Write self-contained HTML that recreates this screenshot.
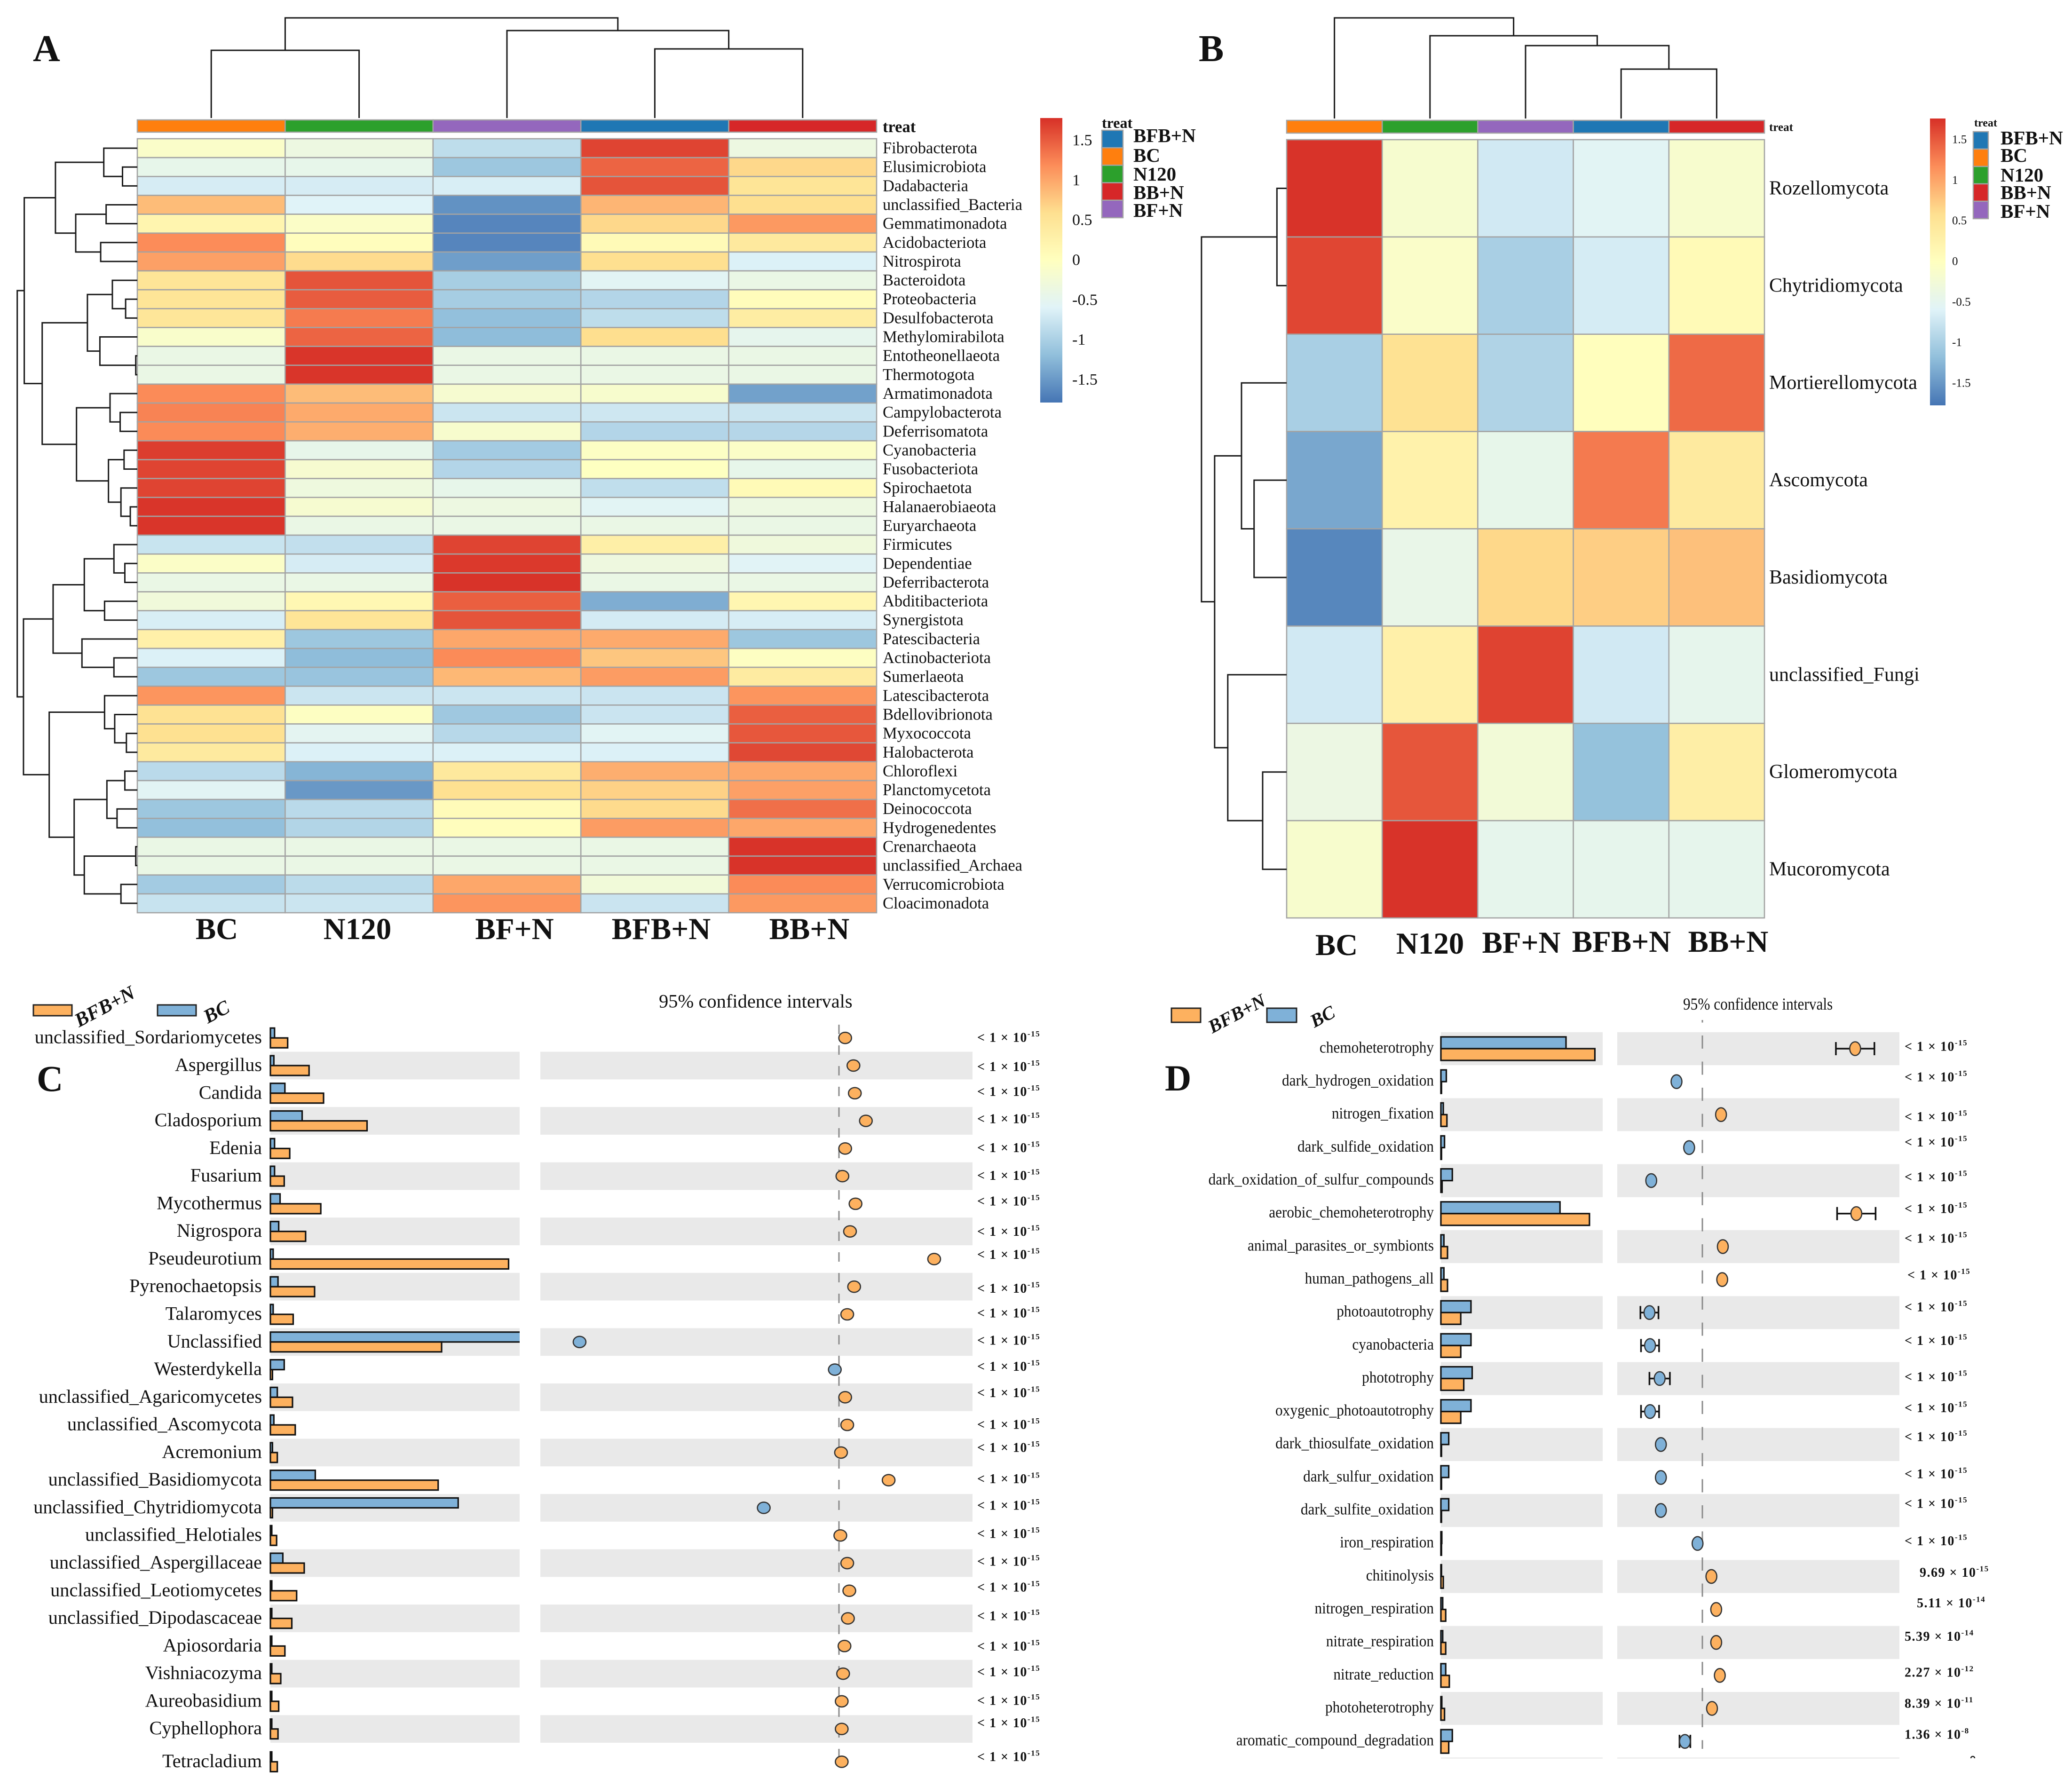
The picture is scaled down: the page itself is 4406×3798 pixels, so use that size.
<!DOCTYPE html>
<html lang="en">
<head>
<meta charset="utf-8">
<title>Microbial community heatmaps and differential abundance</title>
<style>
html,body{margin:0;padding:0;background:#fff;}
svg{display:block;font-family:"Liberation Serif",serif;}
text{fill:#111;}
.mid{dominant-baseline:central;}
.b{font-weight:bold;}
</style>
</head>
<body>
<svg id="chart" width="4406" height="3798" viewBox="0 0 4406 3798">
  <defs>
    <linearGradient id="ramp" x1="0" y1="0" x2="0" y2="1">
      <stop offset="0" stop-color="#d73027"/><stop offset=".1667" stop-color="#fc8d59"/>
      <stop offset=".3333" stop-color="#fee090"/><stop offset=".5" stop-color="#ffffbf"/>
      <stop offset=".6667" stop-color="#e0f3f8"/><stop offset=".8333" stop-color="#91bfdb"/>
      <stop offset="1" stop-color="#4575b4"/>
    </linearGradient>
    <clipPath id="clipC"><rect x="560" y="2150" width="545" height="1640"/></clipPath>
  </defs>
  <rect width="4406" height="3798" fill="#fff"/>

  <g id="panelA">
    <text class="b" x="70" y="130" font-size="80">A</text>
    <text class="b mid" x="1877" y="270" font-size="34.5">treat</text>
    <rect x="2212" y="251" width="47" height="605" fill="url(#ramp)"/>
    <g>
      <text class="b mid" x="2343" y="261" font-size="32">treat</text>
      <rect x="2343" y="277" width="45" height="37.2" fill="#1f77b4" stroke="#a3a3a3" stroke-width="2.5"/>
      <rect x="2343" y="314.2" width="45" height="37.2" fill="#ff7f0e" stroke="#a3a3a3" stroke-width="2.5"/>
      <rect x="2343" y="351.4" width="45" height="37.2" fill="#2ca02c" stroke="#a3a3a3" stroke-width="2.5"/>
      <rect x="2343" y="388.6" width="45" height="37.2" fill="#d62728" stroke="#a3a3a3" stroke-width="2.5"/>
      <rect x="2343" y="425.8" width="45" height="37.2" fill="#9467bd" stroke="#a3a3a3" stroke-width="2.5"/>
      <text class="b mid" x="2410" y="288" font-size="41">BFB+N</text>
      <text class="b mid" x="2410" y="330" font-size="41">BC</text>
      <text class="b mid" x="2410" y="370" font-size="41">N120</text>
      <text class="b mid" x="2410" y="409" font-size="41">BB+N</text>
      <text class="b mid" x="2410" y="447" font-size="41">BF+N</text>
    </g>
    <g class="b" font-size="65" text-anchor="middle">
      <text class="mid" x="461" y="1976">BC</text>
      <text class="mid" x="760" y="1976">N120</text>
      <text class="mid" x="1094" y="1976">BF+N</text>
      <text class="mid" x="1406" y="1976">BFB+N</text>
      <text class="mid" x="1721" y="1976">BB+N</text>
    </g>
  </g>

  <g id="panelB">
    <text class="b" x="2549" y="130" font-size="80">B</text>
    <text class="b mid" x="3762" y="271" font-size="25">treat</text>
    <rect x="4104" y="252" width="33" height="610" fill="url(#ramp)"/>
    <g>
      <text class="b mid" x="4198" y="262" font-size="24">treat</text>
      <rect x="4196" y="280" width="32" height="37" fill="#1f77b4" stroke="#a3a3a3" stroke-width="2.5"/>
      <rect x="4196" y="317" width="32" height="37" fill="#ff7f0e" stroke="#a3a3a3" stroke-width="2.5"/>
      <rect x="4196" y="354" width="32" height="37" fill="#2ca02c" stroke="#a3a3a3" stroke-width="2.5"/>
      <rect x="4196" y="391" width="32" height="37" fill="#d62728" stroke="#a3a3a3" stroke-width="2.5"/>
      <rect x="4196" y="428" width="32" height="37" fill="#9467bd" stroke="#a3a3a3" stroke-width="2.5"/>
      <text class="b mid" x="4254" y="293" font-size="41">BFB+N</text>
      <text class="b mid" x="4254" y="330" font-size="41">BC</text>
      <text class="b mid" x="4254" y="372" font-size="41">N120</text>
      <text class="b mid" x="4254" y="409" font-size="41">BB+N</text>
      <text class="b mid" x="4254" y="449" font-size="41">BF+N</text>
    </g>
    <g class="b" font-size="65" text-anchor="middle">
      <text class="mid" x="2842" y="2010">BC</text>
      <text class="mid" x="3041" y="2007">N120</text>
      <text class="mid" x="3235" y="2005">BF+N</text>
      <text class="mid" x="3448" y="2003">BFB+N</text>
      <text class="mid" x="3675" y="2003">BB+N</text>
    </g>
  </g>

  <g id="panelC">
    <text class="b" x="78" y="2320" font-size="78">C</text>
    <text class="mid" x="1401" y="2129" font-size="40.5">95% confidence intervals</text>
    <rect x="71" y="2137" width="82" height="23" fill="#fdb15f" stroke="#222" stroke-width="3"/>
    <rect x="335" y="2137" width="82" height="23" fill="#7fb1d8" stroke="#222" stroke-width="3"/>
    <text class="b" font-style="italic" font-size="42" transform="translate(168,2185) rotate(-28)">BFB+N</text>
    <text class="b" font-style="italic" font-size="42" transform="translate(442,2177) rotate(-28)">BC</text>
  </g>

  <g id="panelD">
    <text class="b" x="2477" y="2319" font-size="78">D</text>
    <text class="mid" font-size="36" transform="translate(3579,2136) scale(.87,1)">95% confidence intervals</text>
    <rect x="2491" y="2144" width="62" height="30" fill="#fdb15f" stroke="#222" stroke-width="3"/>
    <rect x="2694" y="2144" width="63" height="30" fill="#7fb1d8" stroke="#222" stroke-width="3"/>
    <text class="b" font-style="italic" font-size="40" transform="translate(2578,2198) rotate(-28)">BFB+N</text>
    <text class="b" font-style="italic" font-size="40" transform="translate(2795,2186) rotate(-28)">BC</text>
    <path d="M4191 3739a4 4 0 0 1 8 0" fill="none" stroke="#222" stroke-width="2.5"/>
  </g>
</svg>

<script>
/* ---------- Heatmap A data ---------- */
const bacteriaTaxa = ["Fibrobacterota","Elusimicrobiota","Dadabacteria","unclassified_Bacteria","Gemmatimonadota","Acidobacteriota","Nitrospirota","Bacteroidota","Proteobacteria","Desulfobacterota","Methylomirabilota","Entotheonellaeota","Thermotogota","Armatimonadota","Campylobacterota","Deferrisomatota","Cyanobacteria","Fusobacteriota","Spirochaetota","Halanaerobiaeota","Euryarchaeota","Firmicutes","Dependentiae","Deferribacterota","Abditibacteriota","Synergistota","Patescibacteria","Actinobacteriota","Sumerlaeota","Latescibacterota","Bdellovibrionota","Myxococcota","Halobacterota","Chloroflexi","Planctomycetota","Deinococcota","Hydrogenedentes","Crenarchaeota","unclassified_Archaea","Verrucomicrobiota","Cloacimonadota"];
const bacteriaZ = [
[-.1,-.35,-.85,1.65,-.35],[-.45,-.45,-1.1,1.45,.65],[-.67,-.67,-.65,1.55,.5],[.85,-.59,-1.55,.9,.59],
[.2,-.08,-1.65,.65,1.1],[1.19,.03,-1.65,.1,.42],[1.05,.62,-1.45,.59,-.62],[.5,1.55,-1.02,-.55,-.4],
[.5,1.5,-1.03,-.93,.05],[.48,1.3,-1.17,-.85,.35],[-.12,1.45,-1.2,.6,-.48],[-.4,1.75,-.4,-.4,-.4],
[-.4,1.75,-.4,-.4,-.4],[1.2,.85,-.18,-.15,-1.43],[1.25,.98,-.75,-.73,-.75],[1.2,.95,-.15,-.93,-.92],
[1.7,-.45,-1.05,-.05,-.08],[1.65,-.18,-.93,-.02,-.45],[1.65,-.32,-.45,-.83,.1],[1.75,-.18,-.35,-.55,-.35],
[1.75,-.4,-.4,-.4,-.4],[-.77,-.82,1.65,.3,-.3],[-.08,-.67,1.72,-.33,-.57],[-.4,-.4,1.76,-.4,-.4],
[-.28,.15,1.48,-1.33,.18],[-.65,.5,1.55,-.68,-.66],[.28,-1.1,1,.98,-1.1],[-.62,-1.2,1.2,.78,-.03],
[-1.1,-1.13,.88,1.08,.38],[1.13,-.75,-.75,-.76,1.13],[.56,-.03,-1.08,-.76,1.48],[.58,-.52,-.9,-.55,1.53],
[.4,-.62,-.62,-.62,1.63],[-.88,-1.27,.43,.95,1],[-.55,-1.5,.58,.7,1.05],[-1.1,-.88,.08,.63,1.38],
[-1.17,-.94,.03,1.08,1],[-.4,-.4,-.4,-.4,1.76],[-.4,-.4,-.4,-.4,1.76],[-1.05,-.87,1,-.27,1.2],
[-.78,-.75,1.13,-.76,1.1]];
const bacteriaColumnTree = [213,[144,0,1],[186,2,[147,3,4]]];
const bacteriaRowTree = [154,
  [145,
    [105,[43,0,[19,1,2]],[79,[40,3,4],[47,5,6]]],
    [122,
      [64,[32,7,[15,8,9]],[48,10,[2,11,12]]],
      [78,[35,13,[22,14,15]],[37,[17,16,17],[21,18,[9,19,20]]]]]],
  [146,
    [108,[68,[30,21,[16,22,23]],[42,24,25]],[71,26,[30,27,28]]],
    [113,[42,29,[29,30,[14,31,32]]],
      [81,[39,[16,33,34],[26,35,36]],[68,[2,37,38],[21,39,40]]]]]];

/* ---------- Heatmap B data ---------- */
const fungiTaxa = ["Rozellomycota","Chytridiomycota","Mortierellomycota","Ascomycota","Basidiomycota","unclassified_Fungi","Glomeromycota","Mucoromycota"];
const fungiZ = [
[1.75,-.17,-.7,-.55,-.16],[1.63,-.1,-1,-.67,.1],[-1,.55,-.95,.02,1.4],[-1.37,.25,-.45,1.3,.4],
[-1.63,-.42,.65,.72,.82],[-.7,.28,1.65,-.7,-.47],[-.37,1.53,-.25,-1.15,.32],[-.15,1.75,-.47,-.47,-.47]];
const fungiColumnTree = [214,0,[176,1,[155,2,[105,3,4]]]];
const fungiRowTree = [149,[17,0,1],[126,[79,2,[57,3,4]],[103,5,[42,6,7]]]];

/* ---------- Shared scale data ---------- */
const treatmentColors = ["#ff7f0e","#2ca02c","#9467bd","#1f77b4","#d62728"];
const zTicks = [1.5,1,0.5,0,-0.5,-1,-1.5];
const rampStops = [[69,117,180],[145,191,219],[224,243,248],[255,255,191],[254,224,144],[252,141,89],[215,48,39]];

/* ---------- Panel C data ---------- */
const genusTaxa = ["unclassified_Sordariomycetes","Aspergillus","Candida","Cladosporium","Edenia","Fusarium","Mycothermus","Nigrospora","Pseudeurotium","Pyrenochaetopsis","Talaromyces","Unclassified","Westerdykella","unclassified_Agaricomycetes","unclassified_Ascomycota","Acremonium","unclassified_Basidiomycota","unclassified_Chytridiomycota","unclassified_Helotiales","unclassified_Aspergillaceae","unclassified_Leotiomycetes","unclassified_Dipodascaceae","Apiosordaria","Vishniacozyma","Aureobasidium","Cyphellophora","Tetracladium"];
const genusBC = [6,5,21,46,6,6,14,12,4,11,4,400,20,10,5,3,65,272,2,18,2,2,2,2,2,2,2];
const genusBFB = [25,56,77,140,28,20,73,51,345,64,33,248,3,32,36,10,243,3,9,49,38,31,21,15,12,11,10];
const genusDiff = [9,21,23,39,9,5,24,16,138,22,12,-376,-6,9,12,3,72,-109,2,12,15,13,8,6,4,4,4];
const genusPMantissa = genusTaxa.map(() => "< 1");
const genusPExponent = genusTaxa.map(() => "-15");
const genusPLabelDy = [0,3,-3,-3.5,-1,-.5,-5,1,-9,4.4,-2,-3,-6,-9,0,-10,-2,-4.5,-3,-3,-7,-4.5,1,-3,-1,-12,-10];

/* ---------- Panel D data ---------- */
const functionNames = ["chemoheterotrophy","dark_hydrogen_oxidation","nitrogen_fixation","dark_sulfide_oxidation","dark_oxidation_of_sulfur_compounds","aerobic_chemoheterotrophy","animal_parasites_or_symbionts","human_pathogens_all","photoautotrophy","cyanobacteria","phototrophy","oxygenic_photoautotrophy","dark_thiosulfate_oxidation","dark_sulfur_oxidation","dark_sulfite_oxidation","iron_respiration","chitinolysis","nitrogen_respiration","nitrate_respiration","nitrate_reduction","photoheterotrophy","aromatic_compound_degradation"];
const functionBC = [208,9,4,6,19,198,5,5,50,50,52,50,13,13,13,1.5,1,3,3,8,1.5,19];
const functionBFB = [256,1,10,1,2,247,11,11,33,33,38,33,1,1,1,1,4,8,8,14,6,13];
const functionDiff = [254,-43,31,-22,-85,256,34,33,-88,-87,-71,-87,-69,-69,-69,-8,15,23,23,29,16,-29];
const functionCI = [32,0,0,0,0,32,0,0,15,15,17,15,0,0,0,0,0,0,0,0,0,9];
const functionPMantissa = ["< 1","< 1","< 1","< 1","< 1","< 1","< 1","< 1","< 1","< 1","< 1","< 1","< 1","< 1","< 1","< 1","9.69","5.11","5.39","2.27","8.39","1.36"];
const functionPExponent = ["-15","-15","-15","-15","-15","-15","-15","-15","-15","-15","-15","-15","-15","-15","-15","-15","-15","-14","-14","-12","-11","-8"];
const functionPLabelDy = [-4,-9,5,-11,-7,-10,-17,-9,-11,-10,-3,-7,-16,-7,-14,-5,-8,-13,-12,-6,-10,-14];
const functionPLabelDx = {7:6,16:32,17:26};

/* ---------- Helpers ---------- */
const root = document.getElementById("chart");
const NS = root.namespaceURI;
function make(tag, parent, attrs, text) {
  const node = document.createElementNS(NS, tag);
  for (const k in attrs) node.setAttribute(k, attrs[k]);
  if (text !== undefined) node.textContent = text;
  parent.appendChild(node);
  return node;
}
function rampColor(v, vmax) {
  const t = Math.max(0, Math.min(1, (v + vmax) / (2 * vmax))) * 6;
  const i = Math.min(5, Math.floor(t)), f = t - i;
  const a = rampStops[i], b = rampStops[i + 1];
  return "rgb(" + [0,1,2].map(c => Math.round(a[c] + (b[c] - a[c]) * f)).join(",") + ")";
}
function drawTree(node, leafPos, toXY, g) {
  if (typeof node === "number") return { p: leafPos(node), h: 0 };
  const A = drawTree(node[1], leafPos, toXY, g);
  const B = drawTree(node[2], leafPos, toXY, g);
  const h = node[0];
  const d = "M" + toXY(A.p, A.h) + "L" + toXY(A.p, h) + "L" + toXY(B.p, h) + "L" + toXY(B.p, B.h);
  const el = make("path", g, { d: d, fill: "none", stroke: "#1a1a1a", "stroke-width": 3 });
  
  
  return { p: (A.p + B.p) / 2, h: h };
}

/* ---------- Heatmaps ---------- */
function drawHeatmap(cfg) {
  const g = document.getElementById(cfg.panel);
  const cw = (cfg.right - cfg.left) / 5;
  const rh = (cfg.bottom - cfg.top) / cfg.taxa.length;
  const colX = j => cfg.left + cw * j;
  const rowY = i => cfg.top + rh * i;

  cfg.z.forEach((row, i) => row.forEach((v, j) => {
    const el = make("rect", g, { x: colX(j), y: rowY(i), width: cw, height: rh,
      fill: rampColor(v, cfg.vmax), stroke: "#a3a3a3", "stroke-width": 2.6 });
    
    
  }));
  cfg.taxa.forEach((name, i) => {
    const el = make("text", g, { x: cfg.right + cfg.labelGap, y: rowY(i) + rh / 2,
      "font-size": cfg.labelSize, class: "mid" }, name);
    
    
  });
  treatmentColors.forEach((c, j) => {
    const el = make("rect", g, { x: colX(j), y: cfg.annotTop, width: cw, height: cfg.annotH,
      fill: c, stroke: "#a3a3a3", "stroke-width": 2.6 });
    
    
  });
  zTicks.forEach(t => {
    const el = make("text", g, { x: cfg.tickX, y: cfg.cbZero - t * cfg.cbUnit,
      "font-size": cfg.tickSize, class: "mid" }, String(t));
    
    
  });
  const topG = make("g", g, {});
  
  
  drawTree(cfg.colTree, j => colX(j) + cw / 2, (p, h) => p + " " + (cfg.treeBase - h), topG);
  const leftG = make("g", g, {});
  
  
  drawTree(cfg.rowTree, i => rowY(i) + rh / 2, (p, h) => (cfg.left - h * cfg.treeUnit) + " " + p, leftG);
}
drawHeatmap({ panel: "panelA", taxa: bacteriaTaxa, z: bacteriaZ, colTree: bacteriaColumnTree, rowTree: bacteriaRowTree,
  left: 292, right: 1864, top: 295, bottom: 1941, annotTop: 255, annotH: 26, treeBase: 251, treeUnit: 1.658,
  labelGap: 13, labelSize: 34.5, vmax: 1.78, cbZero: 553, cbUnit: 169.6, tickX: 2280, tickSize: 34 });
drawHeatmap({ panel: "panelB", taxa: fungiTaxa, z: fungiZ, colTree: fungiColumnTree, rowTree: fungiRowTree,
  left: 2736, right: 3752, top: 297, bottom: 1952, annotTop: 256, annotH: 27, treeBase: 252, treeUnit: 1.2155,
  labelGap: 10, labelSize: 42, vmax: 1.77, cbZero: 556, cbUnit: 172.6, tickX: 4151, tickSize: 25 });

/* ---------- Two-group comparison panels ---------- */
function drawComparison(cfg) {
  const g = document.getElementById(cfg.panel);
  const n = cfg.names.length;
  const x = v => cfg.barLeft + v * cfg.barUnit;
  const d = v => cfg.zero + v * cfg.diffUnit;

  for (let i = cfg.bandStart; i < n; i += 2) {
    const top = cfg.rowTop(i);
    const a = make("rect", g, { x: cfg.barLeft, y: top, width: cfg.barRight - cfg.barLeft, height: cfg.pitch, fill: "#e9e9e9" });
    
    
    const b = make("rect", g, { x: cfg.ciLeft, y: top, width: cfg.ciRight - cfg.ciLeft, height: cfg.pitch, fill: "#e9e9e9" });
    
    
  }
  const zeroLine = make("line", g, { x1: cfg.zero, x2: cfg.zero, y1: cfg.dashTop, y2: cfg.dashBottom,
    stroke: "#8a8a8a", "stroke-width": 3, "stroke-dasharray": cfg.dash, "stroke-dashoffset": cfg.dashOffset });
  
  

  const barGroup = make("g", g, cfg.clip ? { "clip-path": cfg.clip } : {});
  
  

  cfg.names.forEach((name, i) => {
    const cy = cfg.rowCenter(i);
    const label = make("text", g, { transform: "translate(" + cfg.labelX + "," + (cy - 2) + ") scale(" + cfg.labelScale + ",1)",
      "text-anchor": "end", "font-size": cfg.labelSize, class: "mid" }, name);
    
    

    const blue = make("rect", barGroup, { x: cfg.barLeft, y: cy - cfg.barH, width: x(cfg.bc[i]) - cfg.barLeft, height: cfg.barH,
      fill: "#7fb1d8", stroke: "#111", "stroke-width": 3.2 });
    
    
    const orange = make("rect", barGroup, { x: cfg.barLeft, y: cy, width: x(cfg.bfb[i]) - cfg.barLeft, height: cfg.barH,
      fill: "#fdb15f", stroke: "#111", "stroke-width": 3.2 });
    
    

    const dv = cfg.diff[i], ci = cfg.ci ? cfg.ci[i] : 0;
    if (ci > 0) {
      const path = "M" + d(dv - ci) + " " + (cy - 14) + "V" + (cy + 14) + "M" + d(dv + ci) + " " + (cy - 14) + "V" + (cy + 14) +
                   "M" + d(dv - ci) + " " + cy + "H" + d(dv + ci);
      const whisker = make("path", g, { d: path, fill: "none", stroke: "#111", "stroke-width": 3.5 });
      
      
    }
    const dot = make("ellipse", g, { cx: d(dv), cy: cy, rx: cfg.dotRx, ry: cfg.dotRy,
      fill: dv >= 0 ? "#fdb15f" : "#7fb1d8", stroke: "#333", "stroke-width": 2.6 });
    
    

    const p = make("text", g, { x: cfg.pX + cfg.pDx(i), y: cy + cfg.pDy[i], class: "b mid", "font-size": 28, "letter-spacing": 1.5 },
      cfg.pMantissa[i] + " × 10");
    
    
    const sup = make("tspan", p, { dy: -9, "font-size": 17 }, cfg.pExponent[i]);
    
    
  });
}
drawComparison({ panel: "panelC", names: genusTaxa, bc: genusBC, bfb: genusBFB, diff: genusDiff,
  pMantissa: genusPMantissa, pExponent: genusPExponent, pDy: genusPLabelDy, pDx: () => 0, pX: 2078,
  pitch: 58.78, bandStart: 1,
  rowTop: i => 2177.8 + 58.78 * i,
  rowCenter: i => 2207.2 + 58.78 * i + (i === 26 ? 11 : 0),
  barLeft: 575, barRight: 1105, barUnit: 1.468, barH: 21, clip: "url(#clipC)",
  ciLeft: 1149, ciRight: 2068, zero: 1784, diffUnit: 1.467,
  dashTop: 2179, dashBottom: 3735, dash: "20 24", dashOffset: 0,
  dotRx: 13.5, dotRy: 12, labelX: 557, labelScale: 1, labelSize: 40.3 });
drawComparison({ panel: "panelD", names: functionNames, bc: functionBC, bfb: functionBFB, diff: functionDiff, ci: functionCI,
  pMantissa: functionPMantissa, pExponent: functionPExponent, pDy: functionPLabelDy, pDx: i => functionPLabelDx[i] || 0, pX: 4050,
  pitch: 70.15, bandStart: 0,
  rowTop: i => 2195 + 70.15 * i,
  rowCenter: i => 2230 + 70.15 * i,
  barLeft: 3064, barRight: 3408, barUnit: 1.279, barH: 25,
  ciLeft: 3439, ciRight: 4039, zero: 3620, diffUnit: 1.279,
  dashTop: 2169, dashBottom: 3719, dash: "28 27.5", dashOffset: 22.5,
  dotRx: 11.5, dotRy: 14.5, labelX: 3049, labelScale: 0.92, labelSize: 34 });

/* Cropped start of the next row at the bottom of panel D */
const panelD = document.getElementById("panelD");
const clipBandL = make("rect", panelD, { x: 3064, y: 3737, width: 344, height: 3, fill: "#eeeeee" });


const clipBandR = make("rect", panelD, { x: 3439, y: 3737, width: 600, height: 3, fill: "#eeeeee" });


</script>
</body>
</html>
